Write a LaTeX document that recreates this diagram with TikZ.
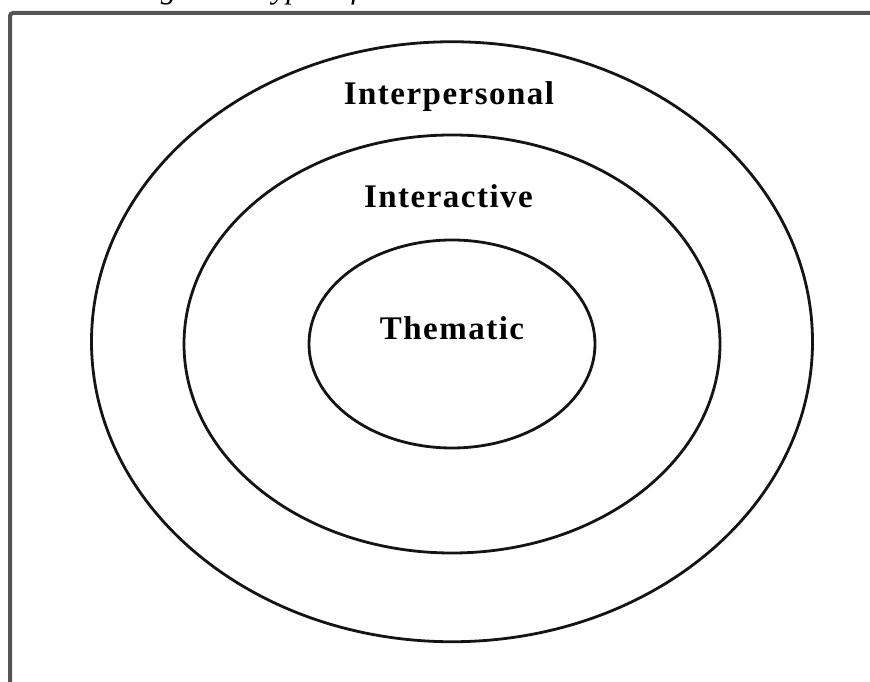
\documentclass[tikz,border=0pt]{standalone}
\usepackage{fontspec}
\setmainfont{Liberation Serif}
\usetikzlibrary{positioning,shapes.geometric}
\definecolor{FrameGray}{RGB}{85,85,85}
\definecolor{RingBlack}{RGB}{20,20,20}
\tikzset{
  ring/.style={
    ellipse,
    draw=RingBlack,
    line width=2.8pt,
    inner sep=0pt
  },
  ringlabel/.style={
    anchor=base,
    inner sep=0pt,
    font=\fontsize{33}{38}\selectfont\bfseries\addfontfeatures{LetterSpace=4.5}
  },
  frame/.style={draw=FrameGray,line width=4pt,rounded corners=3pt}
}
\begin{document}
\begin{tikzpicture}[x=1pt,y=1pt]
    \useasboundingbox (0,0) rectangle (870,682);
    \node[anchor=base west,inner sep=0pt,font=\fontsize{31}{36}\selectfont\itshape] (caption) at (133,683) {Figure 1. Types of contribution};
    \coordinate (fbot) at (10,-20);
    \coordinate (fcorner) at (10,669);
    \coordinate (fright) at (890,669);
    \draw[frame] (fbot) -- (fcorner) -- (fright);
    \node[ring,minimum width=721,minimum height=600] (outer) at (452,340.25) {};
    \node[ring,minimum width=536,minimum height=418] (middle) at (452,338) {};
    \node[ring,minimum width=286,minimum height=208] (inner) at (452,338) {};
    \node[ringlabel] (interpersonal) at (449,577) {Interpersonal};
    \node[ringlabel] (interactive) at (448.5,474) {Interactive};
    \node[ringlabel] (thematic) at (452,342) {Thematic};
  \end{tikzpicture}
\end{document}
